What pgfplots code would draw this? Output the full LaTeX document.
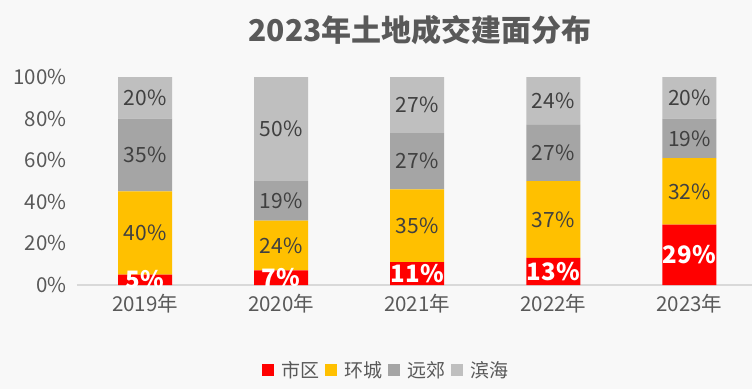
\documentclass[border=0pt]{standalone}
\usepackage{pgfplots}
\pgfplotsset{compat=1.18}
\usepackage{fontspec}
\setmainfont{Noto Sans CJK SC}
\definecolor{cRed}{HTML}{FF0000}
\definecolor{cYel}{HTML}{FFC000}
\definecolor{cDg}{HTML}{A5A5A5}
\definecolor{cLg}{HTML}{BFBFBF}
\definecolor{txt}{HTML}{595959}
\definecolor{lbl}{HTML}{404040}
\definecolor{bg}{HTML}{F8F8F8}
\definecolor{base}{HTML}{D9D9D9}

\pgfplotstableread{
x y t
0 2.5 5\%
1 3.5 7\%
2 5.5 11\%
3 6.5 13\%
4 14.5 29\%
}\labRed
\pgfplotstableread{
x y t
0 25 40\%
1 19 24\%
2 28.5 35\%
3 31.5 37\%
4 45 32\%
}\labYel
\pgfplotstableread{
x y t
0 62.5 35\%
1 40.5 19\%
2 59.5 27\%
3 63.5 27\%
4 70.5 19\%
}\labDg
\pgfplotstableread{
x y t
0 90 20\%
1 75 50\%
2 86.5 27\%
3 88.5 24\%
4 90 20\%
}\labLg

\begin{document}
\begin{tikzpicture}[x=1pt,y=1pt]
\fill[bg] (0,0) rectangle (752,389);
\useasboundingbox (0,0) rectangle (752,389);
\node[font=\fontsize{30}{34}\selectfont\bfseries, text=txt] at (420,359) {2023年土地成交建面分布};

\begin{axis}[
  at={(77pt,104pt)}, anchor=south west,
  scale only axis, width=675pt, height=208pt,
  ybar stacked, bar width=54pt,
  xmin=-0.5, xmax=4.46, ymin=0, ymax=100,
  axis x line*=bottom, axis y line*=left,
  x axis line style={-, draw=base, line width=1.5pt},
  y axis line style={draw=none},
  major tick length=0pt,
  xtick={0,1,2,3,4},
  xticklabels={2019年,2020年,2021年,2022年,2023年},
  ytick={0,20,40,60,80,100},
  yticklabel={\pgfmathprintnumber{\tick}\%},
  /pgf/number format/assume math mode=true,
  tick label style={font=\fontsize{20.5}{24}\selectfont, text=txt},
  xticklabel style={yshift=-6pt},
  yticklabel style={xshift=-7pt},
  legend columns=4,
  legend style={at={(0.458,-0.409)}, anchor=center, draw=none, fill=none,
    font=\fontsize{19}{22}\selectfont, text=txt,
    /tikz/every even column/.append style={column sep=4pt},
    /tikz/every odd column/.append style={column sep=5pt}},
  legend image code/.code={\fill[#1] (0pt,-6pt) rectangle (12pt,6pt);},
]
\addplot[fill=cRed, draw=none] coordinates {(0,5) (1,7) (2,11) (3,13) (4,29)};
\addplot[fill=cYel, draw=none] coordinates {(0,40) (1,24) (2,35) (3,37) (4,32)};
\addplot[fill=cDg, draw=none] coordinates {(0,35) (1,19) (2,27) (3,27) (4,19)};
\addplot[fill=cLg, draw=none] coordinates {(0,20) (1,50) (2,27) (3,23) (4,20)};
\legend{市区,环城,远郊,滨海}
\end{axis}

\begin{axis}[
  at={(77pt,104pt)}, anchor=south west,
  scale only axis, width=675pt, height=208pt,
  xmin=-0.5, xmax=4.46, ymin=0, ymax=100,
  hide axis,
  nodes near coords, point meta=explicit symbolic,
  every node near coord/.style={anchor=center},
]
\addplot[draw=none, mark=none, nodes near coords style={font=\fontsize{24}{27}\selectfont\bfseries, text=white}] table[x=x, y=y, meta=t] {\labRed};
\addplot[draw=none, mark=none, nodes near coords style={font=\fontsize{21}{24}\selectfont, text=lbl}] table[x=x, y=y, meta=t] {\labYel};
\addplot[draw=none, mark=none, nodes near coords style={font=\fontsize{21}{24}\selectfont, text=lbl}] table[x=x, y=y, meta=t] {\labDg};
\addplot[draw=none, mark=none, nodes near coords style={font=\fontsize{21}{24}\selectfont, text=lbl}] table[x=x, y=y, meta=t] {\labLg};
\end{axis}
\end{tikzpicture}
\end{document}
